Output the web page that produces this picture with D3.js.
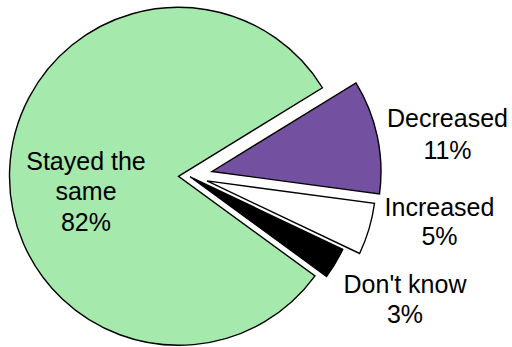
<!DOCTYPE html>
<html>
<head>
<meta charset="utf-8">
<script src="https://cdn.jsdelivr.net/npm/d3@7"></script>
<style>
  html, body { margin: 0; padding: 0; background: #fff; }
  svg { display: block; }
  text { font-family: "Liberation Sans", Arial, sans-serif; fill: #000; }
</style>
</head>
<body>
<svg id="chart" width="512" height="347"></svg>
<script>
// Survey answers, in drawing order (clockwise)
const categories = ["Decreased", "Increased", "Don't know", "Stayed the same"];
const labelLines = [["Decreased"], ["Increased"], ["Don't know"], ["Stayed the", "same"]];
const percentages = [11, 5, 3, 82];

// Styling and layout
const fills = ["#7451a0", "#ffffff", "#000000", "#a6e9ac"];
const sliceShift = [[33.5, -4.8], [28.5, 4.6], [11.6, 0.5], [0, 0]];   // pulled-out slices
const labelAnchor = [[447.5, 127], [439.5, 216], [405, 293], [86, 170]]; // first-line baselines
const lineGap = [31.5, 29, 30, 30.3];

const width = 512, height = 347;
const cx = 178.5, cy = 176.3, radius = 169;
const startDeg = 58.4;

const svg = d3.select("#chart");

const pie = d3.pie()
  .sort(null)
  .value(d => d)
  .startAngle(startDeg * Math.PI / 180)
  .endAngle(startDeg * Math.PI / 180 + 2 * Math.PI);

const arc = d3.arc().innerRadius(0).outerRadius(radius);

const arcs = pie(percentages);

svg.append("g")
  .selectAll("path")
  .data(arcs)
  .join("path")
  .attr("transform", (d, i) => `translate(${cx + sliceShift[i][0]},${cy + sliceShift[i][1]})`)
  .attr("d", arc)
  .attr("fill", (d, i) => fills[i])
  .attr("stroke", "#000")
  .attr("stroke-width", 1.4)
  .attr("stroke-linejoin", "miter");

const labels = svg.append("g")
  .selectAll("text")
  .data(arcs)
  .join("text")
  .attr("text-anchor", "middle")
  .attr("font-size", 25)
  .attr("x", (d, i) => labelAnchor[i][0])
  .attr("y", (d, i) => labelAnchor[i][1]);

labels.each(function (d, i) {
  const lines = labelLines[i].concat([`${percentages[i]}%`]);
  d3.select(this).selectAll("tspan")
    .data(lines)
    .join("tspan")
    .attr("x", labelAnchor[i][0])
    .attr("dy", (l, k) => k === 0 ? 0 : lineGap[i])
    .text(l => l);
});
</script>
</body>
</html>
